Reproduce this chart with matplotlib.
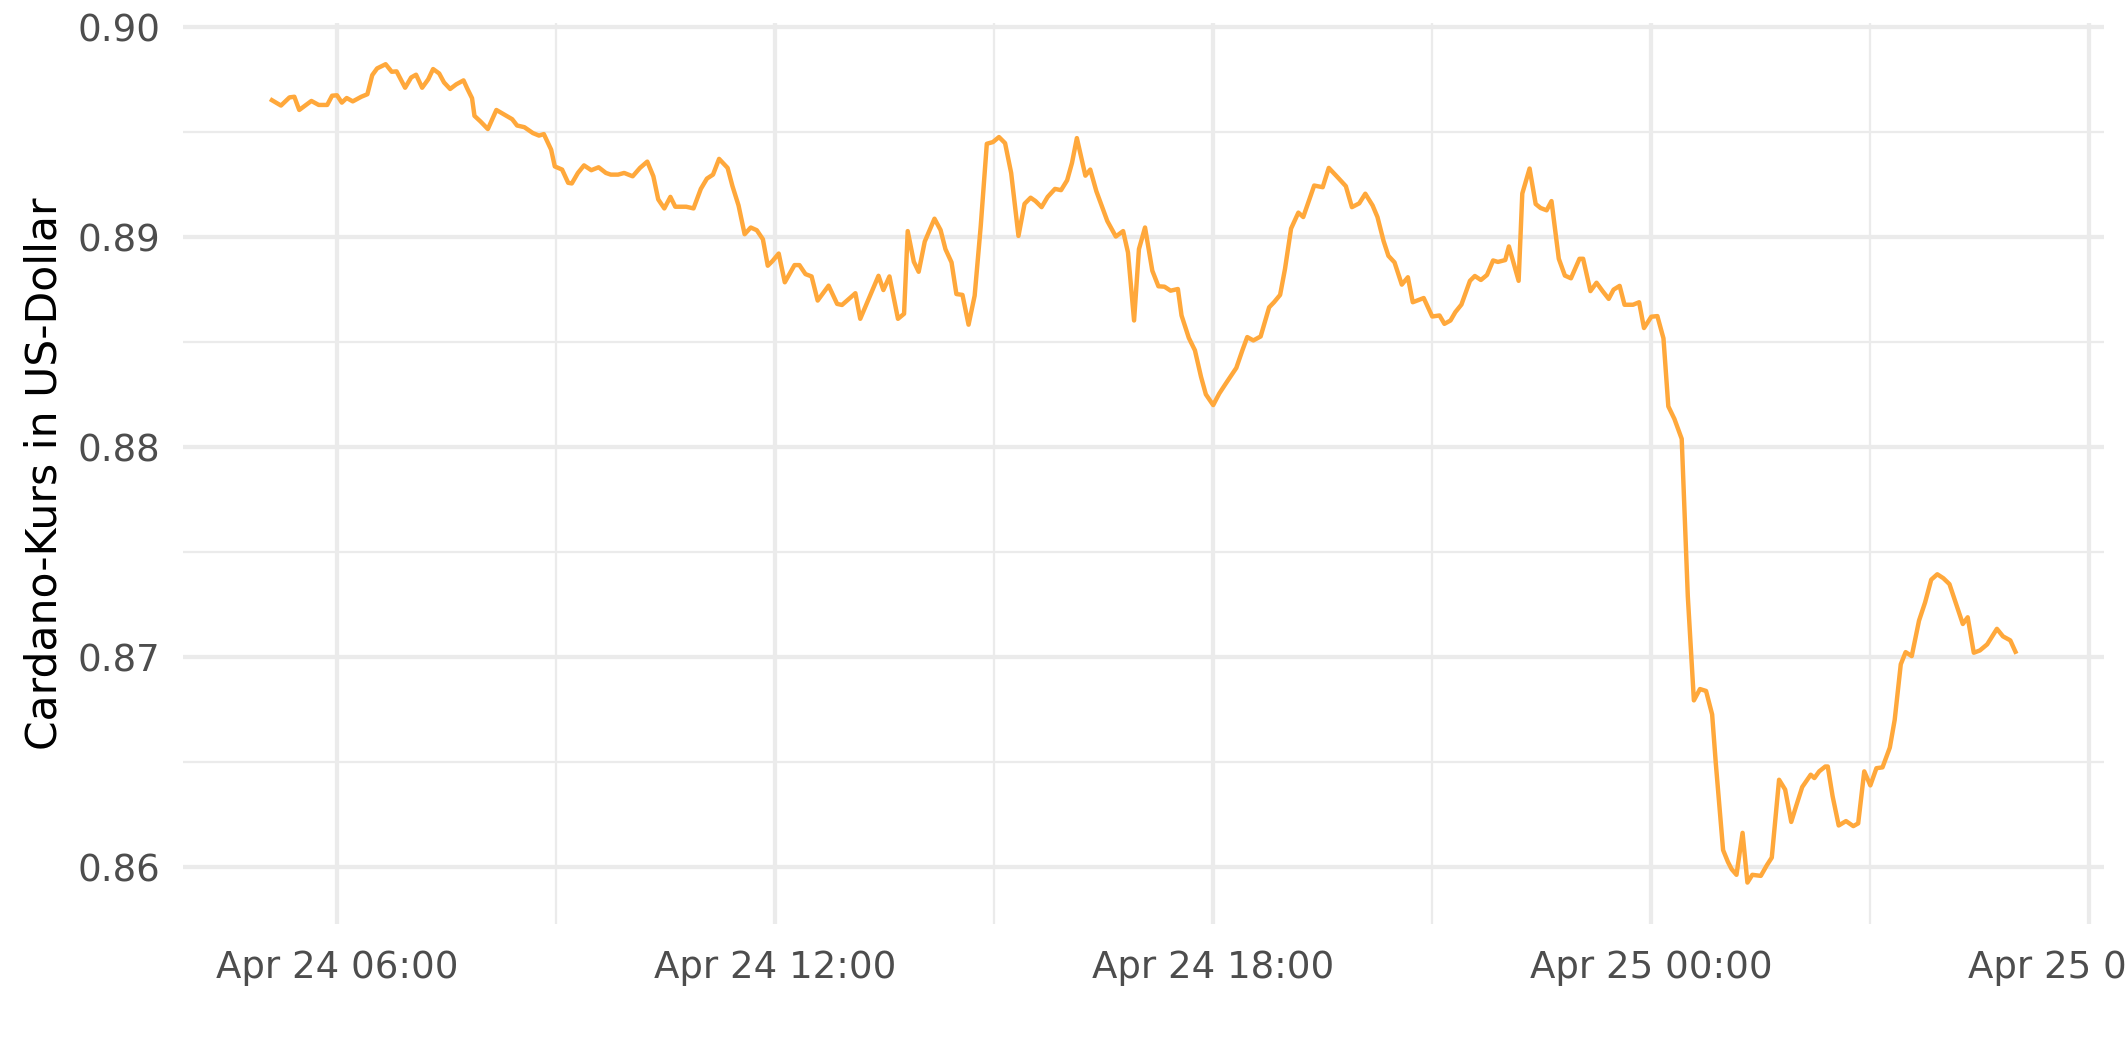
import matplotlib
matplotlib.use('Agg')
import matplotlib.pyplot as plt
import matplotlib.dates as mdates
import pandas as pd

# minutes relative to 2024-04-24 06:00
minutes = [-55, -46, -39, -35, -31, -21, -15, -8, -4, 0, 4, 8, 13, 20, 25, 29, 33, 40, 45, 49,
           56, 61, 65, 70, 75, 79, 84, 88, 93, 98, 104, 107, 111, 113, 118, 124, 131, 141, 144, 148,
           154, 161, 166, 170, 176, 179, 185, 190, 193, 198, 203, 209, 215, 221, 225, 231, 236, 243, 249, 255,
           260, 264, 269, 274, 278, 287, 293, 299, 304, 309, 314, 321, 325, 330, 335, 340, 345, 350, 354, 358,
           363, 368, 376, 380, 385, 390, 395, 404, 411, 415, 426, 430, 445, 449, 454, 461, 466, 469, 474, 478,
           483, 491, 496, 500, 505, 509, 514, 519, 524, 529, 534, 539, 544, 549, 554, 560, 565, 570, 574, 579,
           584, 590, 595, 600, 604, 608, 615, 619, 624, 633, 640, 646, 650, 655, 659, 664, 670, 675, 680, 685,
           691, 694, 700, 705, 710, 714, 720, 725, 731, 739, 744, 748, 753, 759, 766, 770, 775, 779, 784, 790,
           794, 803, 810, 815, 822, 829, 834, 840, 845, 851, 855, 860, 864, 869, 875, 880, 884, 893, 900, 906,
           910, 915, 919, 924, 931, 935, 940, 945, 950, 954, 960, 963, 971, 974, 980, 985, 989, 994, 998, 1004,
           1009, 1014, 1021, 1024, 1030, 1035, 1040, 1045, 1049, 1054, 1058, 1065, 1070, 1074, 1080, 1085, 1090, 1094, 1099, 1105,
           1110, 1115, 1120, 1125, 1130, 1133, 1136, 1139, 1143, 1146, 1150, 1155, 1159, 1163, 1170, 1175, 1179, 1185, 1190, 1195,
           1199, 1204, 1211, 1214, 1218, 1223, 1225, 1229, 1234, 1240, 1246, 1250, 1255, 1260, 1265, 1270, 1276, 1280, 1285, 1289,
           1294, 1300, 1305, 1310, 1315, 1320, 1325, 1330, 1336, 1340, 1345, 1350, 1356, 1364, 1369, 1375, 1380]

price = [0.89657, 0.89626, 0.89665, 0.89668, 0.89605, 0.89648, 0.89629, 0.89629, 0.89673, 0.89675,
         0.89640, 0.89662, 0.89646, 0.89668, 0.89680, 0.89771, 0.89803, 0.89823, 0.89787, 0.89789,
         0.89711, 0.89760, 0.89773, 0.89711, 0.89751, 0.89800, 0.89779, 0.89736, 0.89705, 0.89727,
         0.89746, 0.89708, 0.89661, 0.89577, 0.89550, 0.89514, 0.89605, 0.89571, 0.89561, 0.89531,
         0.89523, 0.89495, 0.89483, 0.89490, 0.89416, 0.89336, 0.89321, 0.89258, 0.89255, 0.89305,
         0.89341, 0.89318, 0.89332, 0.89305, 0.89297, 0.89297, 0.89305, 0.89289, 0.89329, 0.89359,
         0.89289, 0.89179, 0.89136, 0.89191, 0.89144, 0.89144, 0.89136, 0.89229, 0.89278, 0.89297,
         0.89372, 0.89329, 0.89242, 0.89150, 0.89013, 0.89045, 0.89032, 0.88989, 0.88863, 0.88886,
         0.88921, 0.88784, 0.88866, 0.88866, 0.88823, 0.88812, 0.88697, 0.88768, 0.88681, 0.88676,
         0.88732, 0.88610, 0.88815, 0.88747, 0.88812, 0.88610, 0.88634, 0.89028, 0.88882, 0.88834,
         0.88978, 0.89087, 0.89033, 0.88942, 0.88879, 0.88728, 0.88724, 0.88582, 0.88720, 0.89052,
         0.89444, 0.89452, 0.89476, 0.89447, 0.89305, 0.89005, 0.89158, 0.89187, 0.89171, 0.89142,
         0.89191, 0.89229, 0.89223, 0.89270, 0.89353, 0.89471, 0.89292, 0.89321, 0.89218, 0.89076,
         0.89002, 0.89028, 0.88926, 0.88602, 0.88942, 0.89045, 0.88839, 0.88765, 0.88763, 0.88744,
         0.88752, 0.88626, 0.88519, 0.88460, 0.88334, 0.88250, 0.88199, 0.88254, 0.88307, 0.88376,
         0.88460, 0.88523, 0.88507, 0.88526, 0.88665, 0.88689, 0.88724, 0.88847, 0.89040, 0.89116,
         0.89095, 0.89245, 0.89237, 0.89329, 0.89286, 0.89242, 0.89142, 0.89160, 0.89206, 0.89150,
         0.89095, 0.88981, 0.88910, 0.88879, 0.88773, 0.88808, 0.88689, 0.88709, 0.88621, 0.88626,
         0.88586, 0.88602, 0.88642, 0.88678, 0.88791, 0.88814, 0.88795, 0.88819, 0.88888, 0.88881,
         0.88890, 0.88955, 0.88791, 0.89207, 0.89326, 0.89157, 0.89138, 0.89127, 0.89171, 0.88896,
         0.88816, 0.88803, 0.88896, 0.88896, 0.88742, 0.88782, 0.88742, 0.88705, 0.88749, 0.88767,
         0.88677, 0.88677, 0.88689, 0.88566, 0.88620, 0.88623, 0.88517, 0.88193, 0.88133, 0.88038,
         0.87289, 0.86792, 0.86846, 0.86837, 0.86725, 0.86493, 0.86288, 0.86079, 0.86022, 0.85988,
         0.85961, 0.86161, 0.85924, 0.85961, 0.85956, 0.86007, 0.86043, 0.86414, 0.86367, 0.86213,
         0.86288, 0.86379, 0.86438, 0.86422, 0.86454, 0.86477, 0.86477, 0.86335, 0.86196, 0.86217,
         0.86193, 0.86206, 0.86454, 0.86387, 0.86469, 0.86473, 0.86567, 0.86699, 0.86964, 0.87022,
         0.87003, 0.87172, 0.87259, 0.87367, 0.87393, 0.87374, 0.87346, 0.87259, 0.87156, 0.87188,
         0.87019, 0.87030, 0.87059, 0.87133, 0.87097, 0.87078, 0.87014]

y_major = [0.86, 0.87, 0.88, 0.89, 0.90]
y_minor = [0.865, 0.875, 0.885, 0.895]
x_major = ['2024-04-24 06:00', '2024-04-24 12:00', '2024-04-24 18:00', '2024-04-25 00:00', '2024-04-25 06:00']
x_minor = ['2024-04-24 09:00', '2024-04-24 15:00', '2024-04-24 21:00', '2024-04-25 03:00']
y_title = 'Cardano-Kurs in US-Dollar'

start = pd.Timestamp('2024-04-24 06:00')
times = start + pd.to_timedelta(minutes, unit='m')

W, H, DPI = 2125, 1062, 212.5
fig = plt.figure(figsize=(W / DPI, H / DPI), dpi=DPI)
fig.patch.set_facecolor('white')
left, right, top, bottom = 182.7, 2103.7, 23.3, 923.5
ax = fig.add_axes([left / W, 1 - bottom / H, (right - left) / W, (bottom - top) / H])

ax.plot(times, price, color='#FFA83B', lw=1.5, solid_joinstyle='round', solid_capstyle='butt', zorder=3)

t0, t1 = times.min(), times.max()
span = t1 - t0
ax.set_xlim(t0 - 0.05 * span, t1 + 0.05 * span)
pmin, pmax = min(price), max(price)
pr = pmax - pmin
ax.set_ylim(pmin - 0.05 * pr, pmax + 0.05 * pr)

ax.set_xticks(pd.to_datetime(x_major))
ax.set_xticks(pd.to_datetime(x_minor), minor=True)
ax.xaxis.set_major_formatter(mdates.DateFormatter('%b %d %H:%M'))
ax.set_yticks(y_major)
ax.set_yticks(y_minor, minor=True)
ax.set_yticklabels([f'{v:.2f}' for v in y_major])

ax.grid(which='major', color='#EBEBEB', lw=1.45)
ax.grid(which='minor', color='#EBEBEB', lw=0.75)
ax.set_axisbelow(True)
for s in ax.spines.values():
    s.set_visible(False)
ax.tick_params(which='both', length=0)
ax.tick_params(axis='x', which='major', pad=8.5, labelsize=12.6, labelcolor='#4D4D4D')
ax.tick_params(axis='y', which='major', pad=7.5, labelsize=12.6, labelcolor='#4D4D4D')
ax.set_ylabel(y_title, fontsize=14.4, color='black', labelpad=4)

fig.savefig('out.png', dpi=DPI, facecolor='white')
